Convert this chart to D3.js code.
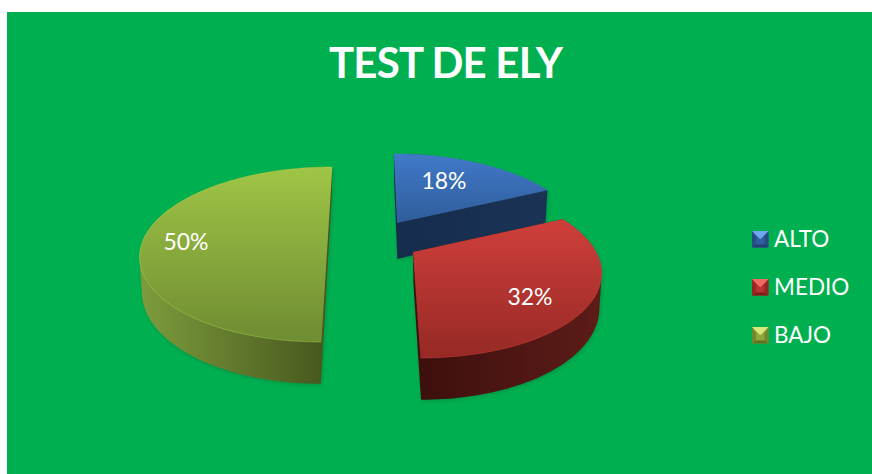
<!DOCTYPE html>
<html><head><meta charset="utf-8">
<script src="https://cdn.jsdelivr.net/npm/d3@7"></script>
<style>html,body{margin:0;padding:0;background:#fff}svg{display:block}</style>
</head><body><svg id="c" width="872" height="474"></svg>
<script>
const categories = ["ALTO","MEDIO","BAJO"];
const values = [18,32,50];
const labels = ["18%","32%","50%"];
const titleText = "TEST DE ELY";
const topColors = [["#4079c8","#2f5d9a"],["#cf3f3b","#962925"],["#9fc546","#6f8c32"]];
const sideColors = [["#162c4c","#1a3355"],["#5d1c18","#3c0f0d"],["#7d9c3c","#45551d"]];
const swatchColors = [["#2f5f9e","#6fa8ee","#1f4170"],["#b8322f","#f26a66","#7a1e1c"],["#8ea83a","#dbe77a","#5d7025"]];
const apexes = [[397,223],[413,252],[328,236]];
const depths = [36,33,33];
const labelPos = [[444,181],[530,297],[186,242]];
const legendY = [239,287,335];

const svg = d3.select("#c");
const defs = svg.append("defs");
defs.append("filter").attr("id","sh").attr("x","-10%").attr("y","-10%").attr("width","120%").attr("height","120%")
  .append("feGaussianBlur").attr("stdDeviation",2);

svg.append("rect").attr("x",7).attr("y",12).attr("width",865).attr("height",462).attr("fill","#00b050");

svg.append("text").attr("x",445.5).attr("y",78).attr("text-anchor","middle")
  .attr("font-family","Lato").attr("font-weight",700).attr("font-size",42).attr("letter-spacing",-0.8).attr("fill","#fff").text(titleText);

const RX=183, RY=83.6, K=0.211, VX=368;
const pie = d3.pie().sort(null).value(d=>d);
const arcs = pie(values);

function project(i,a,r,lift){
  const [ax,ay]=apexes[i];
  const s=Math.sin(a)*r, v=-Math.cos(a)*r;
  const w=1/(1-K*v);
  const shear=(ax-VX)*(w-1)*0.62;
  let x=ax+shear+RX*s*w, y=ay+RY*v*w;
  if(lift){ x=ax+shear+RX*s*w*0.985+(ax-VX)*0.012; y+=depths[i]*w; }
  return [x,y];
}
function outline(i,lift){
  const d=arcs[i];
  const n=Math.max(8,Math.round((d.endAngle-d.startAngle)*40));
  const pts=[project(i,0,0,lift)];
  d3.range(n+1).forEach(k=>pts.push(project(i,d.startAngle+(d.endAngle-d.startAngle)*k/n,1,lift)));
  return pts;
}
const line=d3.line().curve(d3.curveLinearClosed);
function hull(i){
  return d3.polygonHull(outline(i,false).concat(outline(i,true)));
}
[2,0,1].forEach(i=>{
  const top=outline(i,false), bot=outline(i,true);
  const all=top.concat(bot);
  const xs=d3.extent(all,p=>p[0]), ys=d3.extent(top,p=>p[1]);
  const gid="t"+i, sid="s"+i;
  const tg=defs.append("linearGradient").attr("id",gid).attr("gradientUnits","userSpaceOnUse")
    .attr("x1",0).attr("x2",0).attr("y1",ys[0]).attr("y2",ys[1]);
  tg.append("stop").attr("offset",0).attr("stop-color",topColors[i][0]);
  tg.append("stop").attr("offset",1).attr("stop-color",topColors[i][1]);
  const sg=defs.append("linearGradient").attr("id",sid).attr("gradientUnits","userSpaceOnUse")
    .attr("x1",i===1?xs[1]:xs[0]).attr("x2",i===1?xs[0]:xs[1]).attr("y1",0).attr("y2",0);
  sg.append("stop").attr("offset",0).attr("stop-color",sideColors[i][0]);
  sg.append("stop").attr("offset",1).attr("stop-color",sideColors[i][1]);
  const g=svg.append("g");
  const solid=g.append("g");
  g.insert("path",":first-child").attr("d",line(hull(i).map(p=>[p[0]+1,p[1]+1.5]))).attr("fill","#04602f")
    .attr("opacity",0.35).attr("filter","url(#sh)");
  solid.append("path").attr("d",line(hull(i))).attr("fill",`url(#${sid})`);
  solid.append("path").attr("d",line(top)).attr("fill",`url(#${gid})`);
  solid.append("path").attr("d",d3.line()(top.slice(1))).attr("fill","none").attr("stroke",d3.color(topColors[i][0]).brighter(0.5)).attr("stroke-opacity",0.35).attr("stroke-width",1);
});

const gl=svg.append("g").attr("font-family","Lato").attr("fill","#fff");
labels.forEach((t,i)=>gl.append("text").attr("x",labelPos[i][0]).attr("y",labelPos[i][1]).attr("dy","0.36em").attr("text-anchor","middle").attr("font-size",23).text(t));

categories.forEach((c,i)=>{
  const y=legendY[i], x=752, s=16.5, b=4;
  const g=svg.append("g").attr("transform",`translate(${x},${y-8})`);
  const col=swatchColors[i];
  g.append("rect").attr("width",s).attr("height",s).attr("fill",col[0]);
  g.append("path").attr("d",`M0,0H${s}L${s/2},${s/2}Z`).attr("fill",col[1]);
  g.append("path").attr("d",`M0,${s}H${s}L${s-b},${s-b+1}H${b}Z`).attr("fill",col[2]);
  g.append("path").attr("d",`M0,0L${b},${b+2}V${s-b+1}L0,${s}Z`).attr("fill",col[2]).attr("opacity",0.6);
  g.append("path").attr("d",`M${s},0L${s-b},${b+2}V${s-b+1}L${s},${s}Z`).attr("fill",col[2]).attr("opacity",0.6);
  svg.append("text").attr("x",774).attr("y",y).attr("dy","0.36em").attr("font-family","Lato").attr("font-size",22.5).attr("fill","#fff").text(c);
});
</script></body></html>
